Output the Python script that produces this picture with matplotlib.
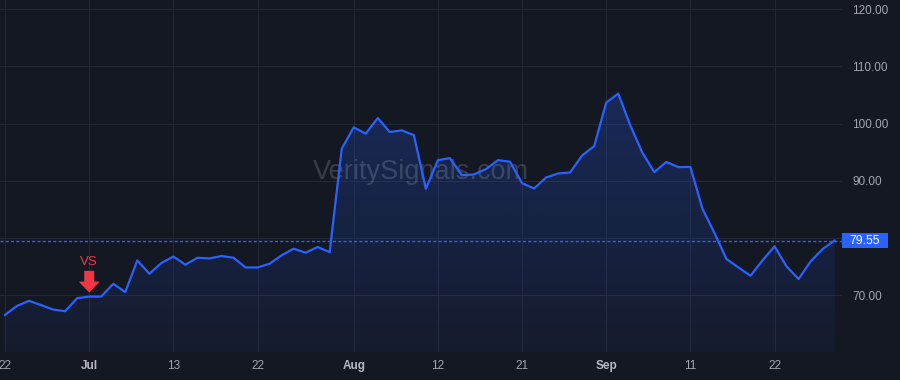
import numpy as np
import pandas as pd
import matplotlib
matplotlib.use("Agg")
import matplotlib.pyplot as plt
import matplotlib.transforms as mtransforms
from matplotlib.patches import Polygon, Rectangle

plt.rcParams["font.family"] = ["Liberation Sans", "DejaVu Sans"]

# ---------------- data ----------------
dates = pd.bdate_range("2020-06-22", "2020-09-29", freq="C",
                       holidays=["2020-07-03", "2020-09-07"])
values = [66.54, 68.12, 69.00, 68.25, 67.47, 67.19, 69.47, 69.75, 69.75, 71.98,
          70.53, 76.07, 73.74, 75.61, 76.75, 75.32, 76.54, 76.42, 76.84, 76.54,
          74.84, 74.84, 75.49, 76.95, 78.12, 77.42, 78.42, 77.51, 95.61, 99.35,
          98.25, 100.98, 98.53, 98.82, 98.00, 88.60, 93.61, 93.96, 90.98, 91.11,
          92.05, 93.61, 93.33, 89.58, 88.65, 90.58, 91.28, 91.46, 94.44, 96.07,
          103.68, 105.26, 99.70, 94.96, 91.51, 93.30, 92.39, 92.42, 85.14, 80.88,
          76.32, 74.84, 73.39, 76.07, 78.53, 75.02, 72.81, 75.89, 78.07, 79.55]
tick_dates = ["2020-06-22", "2020-07-01", "2020-07-13", "2020-07-22", "2020-08-03",
              "2020-08-12", "2020-08-21", "2020-09-01", "2020-09-11", "2020-09-22"]
tick_labels = ["22", "Jul", "13", "22", "Aug", "12", "21", "Sep", "11", "22"]
month_labels = ["Jul", "Aug", "Sep"]
y_ticks = [70, 80, 90, 100, 110, 120]
y_labels = ["70.00", "", "90.00", "100.00", "110.00", "120.00"]
signal_date = "2020-07-01"
signal_text = "VS"
watermark = "VeritySignals.com"
last_value = values[-1]

# ---------------- style ----------------
BG = "#141823"
GRID = "#232835"
LINE = "#2962ff"
TXT = "#a3a6af"
RED = "#f23645"

fig = plt.figure(figsize=(9, 3.8), dpi=100, facecolor=BG)
ax = fig.add_axes([0, 28 / 380, 842 / 900, 352 / 380], facecolor=BG)

x = np.arange(len(values))
vals = np.array(values)
ylim = (60.05, 121.63)
xlim = (-0.42, len(values) - 1 + 0.61)

ax.plot(x, vals, color=LINE, lw=1.6, zorder=5, solid_joinstyle="round")

# gradient fill
n = 256
grad = np.zeros((n, 1, 4))
rgb = matplotlib.colors.to_rgb(LINE)
grad[:, 0, 0] = rgb[0]
grad[:, 0, 1] = rgb[1]
grad[:, 0, 2] = rgb[2]
grad[:, 0, 3] = np.linspace(0.05, 0.24, n)
im = ax.imshow(grad, extent=[x[0], x[-1], ylim[0], vals.max()], origin="lower",
               aspect="auto", zorder=2, interpolation="bilinear")
poly = Polygon(np.column_stack([np.r_[x[0], x, x[-1]], np.r_[ylim[0], vals, ylim[0]]]),
               closed=True, facecolor="none", edgecolor="none")
ax.add_patch(poly)
im.set_clip_path(poly)

# last price dotted line
ax.axhline(last_value, color=LINE, lw=1.0, ls=(0, (2.2, 1.6)), zorder=4)

ax.set_xlim(*xlim)
ax.set_ylim(*ylim)

# grid / ticks
ax.set_axisbelow(True)
ax.grid(True, color=GRID, lw=0.8)
for s in ax.spines.values():
    s.set_visible(False)

ax.yaxis.tick_right()
ax.set_yticks(y_ticks)
ax.set_yticklabels(y_labels)
ax.tick_params(axis="y", length=0, pad=7.5, labelcolor=TXT, labelsize=8.5)

date_index = {d.strftime("%Y-%m-%d"): i for i, d in enumerate(dates)}
ax.set_xticks([date_index[d] for d in tick_dates])
ax.set_xticklabels(tick_labels)
ax.tick_params(axis="x", length=0, pad=6, labelcolor=TXT, labelsize=8.5)
for lbl in ax.get_xticklabels():
    if lbl.get_text() in month_labels:
        lbl.set_fontweight("bold")
        lbl.set_color("#b7bac2")

# price label box
btrans = mtransforms.blended_transform_factory(fig.transFigure, ax.transData)
rect = Rectangle((842 / 900, last_value - 1.32), 46 / 900, 2.64, transform=btrans,
                 facecolor=LINE, edgecolor="none", clip_on=False)
fig.add_artist(rect)
fig.text(865 / 900, last_value, f"{last_value:.2f}", transform=btrans, ha="center",
         va="center", color="white", fontsize=8.8)

# watermark
ax.text(0.5, 0.512, watermark, transform=ax.transAxes, ha="center", va="center",
        fontsize=19.5, color=(0.62, 0.64, 0.70, 0.27), zorder=3)

# signal marker
si = date_index[signal_date]
off = mtransforms.ScaledTranslation(si, vals[si], ax.transData)
tpx = mtransforms.Affine2D() + off
arrow = Polygon([(0, 4), (-10.5, 15), (-5, 15), (-5, 25.7), (5, 25.7), (5, 15), (10.5, 15)],
                closed=True, transform=tpx, facecolor=RED, edgecolor="none", zorder=6)
ax.add_artist(arrow)
ax.text(0, 35, signal_text, transform=tpx, ha="center", va="center", color=RED,
        fontsize=9.5, zorder=6)

fig.savefig("out.png", dpi=100, facecolor=BG)
